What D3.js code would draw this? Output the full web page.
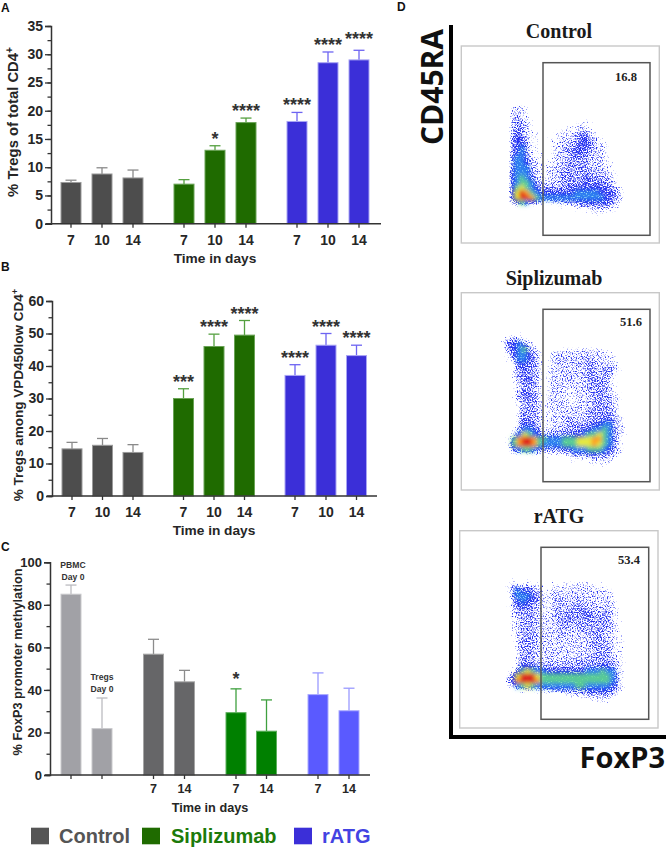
<!DOCTYPE html>
<html><head><meta charset="utf-8">
<script src="https://cdn.jsdelivr.net/npm/d3@7/dist/d3.min.js"></script>
<style>html,body{margin:0;background:#fff}svg{display:block}text{font-family:"Liberation Sans",Arial,sans-serif}</style>
</head><body><svg id="c" width="667" height="848"></svg>
<script>
// ---------- data ----------
const groupNames = ["Control","Siplizumab","rATG"];
const abDays = ["7","10","14","7","10","14","7","10","14"];
const abGroups = [0,0,0,1,1,1,2,2,2];
const aValues = [7.3,8.8,8.1,7.0,13.0,17.9,18.1,28.5,29.0];
const aErrTop = [7.7,9.9,9.5,7.8,13.8,18.7,19.7,30.4,30.7];
const aStars  = ["","","","","*","****","****","****","****"];
const bValues = [14.5,15.6,13.4,30.0,46.0,49.5,37.1,46.4,43.2];
const bErrTop = [16.5,17.7,15.8,33.0,49.8,54.0,40.4,50.0,46.4];
const bStars  = ["","","","***","****","****","****","****","****"];
const cDays   = ["","","7","14","7","14","7","14"];
const cGroups = [3,3,0,0,1,1,2,2];
const cValues = [85.0,21.8,56.8,43.8,29.3,20.6,37.8,30.2];
const cErrTop = [89.3,36.2,63.8,49.2,40.5,35.3,48.0,40.8];
const cStars  = ["","","","","*","","",""];
const flowTitles = ["Control","Siplizumab","rATG"];
const flowGatePercent = ["16.8","51.6","53.4"];
// density: 0 empty … 9 peak
const flowControl = [
"000000000000000000000000","001000000000000000000000","012210000000000000000000","022210000000000000000000",
"023210000000000010000000","023321000000001110000000","023321000000111211000000","024321100011122332100000",
"034421100112223442210000","034431100112223443211000","034531100122334443221000","034531110122334432221000",
"035542110122233332221000","035542211122333332221100","035552211222333332222100","045553211223333333322110",
"045654221223333343333210","045665322223333343433210","046765433333344444444321","047986544444445555544431",
"047998655555555555554432","024654321222333444444321","000000000001011222322210","000000000000000001111100"];
const flowSiplizumab = [
"010110000000000000000000000","023321100000000000000000000","024453210000000000000000000","013456321001111112211100000",
"012455432012222222222211000","001355432012322223322221000","000244332012222232332222100","000234332022222222332332100",
"000233332022222223332331100","000134432022223222333321000","000123332012222222333321000","000123322022221222333321000",
"000134432122221222233321100","000123332022221122233332100","000023332122221222233332100","000023332112222222333332100",
"000023332112222222333332100","000024332112223222333443210","000034432112223333344553210","000135543122233334455653210",
"000257654233333445667653210","002689986655566677788653200","002689986555566677787653200","001456654333344555666543210",
"000111111111112333443332100","000000000000001111122221000","000000000000000000111110000"];
const flowRatg = [
"0100100001011011100000000","1332322101111222221100000","1354433212222222222211000","0355543212322222222221000",
"0345443212322232222222000","0244432212332333222222100","0233332212323334332332100","0223332222334333433332100",
"0123332222333333333332100","0123332222233233333332100","0123332222232223333322100","0123332222232222233322110",
"0023332222222222233322110","0023332222222222233332110","0023332222222222223332110","0023332222222222233332110",
"0023332222223233333333210","0024443333333333333443210","0146765544444444555655210","2479997666666666666665310",
"2489998666666666666665310","1356765555555566555554310","0011111223333333444443210","0000000000001122222322100",
"0000000000000000011110000"];

// ---------- styles ----------
const fills   = ["#4d4d4d","#1f6b00","#3b2fd8"];
const strokes = ["#9a9a9a","#6aa356","#a9a5f4"];
const errs    = ["#8a8a8a","#55a040","#6d64f2"];
const cFills  = ["#666668","#008000","#5a5aff","#a1a1a6"];
const cStrokes= ["#a5a5a5","#5cb05c","#a9a9ff","#c9c9cc"];
const cErrs   = ["#8c8c8c","#3fa03f","#9a9aff","#bcbcc0"];
const legendColors = ["#555555","#1f6b00","#3b2fd8"];
const legendText   = ["#555555","#1c7a0a","#4343e2"];
const ink = "#262626";

const svg = d3.select("#c");
const defs = svg.append("defs");

// ---------- bar panels ----------
function barPanel(o){
  const g = svg.append("g");
  const cx = i => o.centers[i];
  const y = d3.scaleLinear().domain([0,o.max]).range([o.y0,o.y1]);
  const bars = g.selectAll("g.bar").data(o.values).join("g");
  bars.append("line").attr("x1",(d,i)=>cx(i)).attr("x2",(d,i)=>cx(i))
    .attr("y1",d=>y(d)).attr("y2",(d,i)=>y(o.err[i]))
    .attr("stroke",(d,i)=>o.errCol(i)).attr("stroke-width",1.3);
  bars.append("line").attr("x1",(d,i)=>cx(i)-o.cap).attr("x2",(d,i)=>cx(i)+o.cap)
    .attr("y1",(d,i)=>y(o.err[i])).attr("y2",(d,i)=>y(o.err[i]))
    .attr("stroke",(d,i)=>o.errCol(i)).attr("stroke-width",1.3);
  bars.append("rect").attr("x",(d,i)=>cx(i)-o.bw/2).attr("width",o.bw)
    .attr("y",d=>y(d)).attr("height",d=>o.y0-y(d))
    .attr("fill",(d,i)=>o.fill(i)).attr("stroke",(d,i)=>o.stroke(i)).attr("stroke-width",1);
  g.selectAll("text.star").data(o.stars).join("text").attr("class","star")
    .attr("x",(d,i)=>cx(i)).attr("y",(d,i)=>y(o.err[i])-1+(o.starDy?o.starDy[i]:0))
    .attr("text-anchor","middle").attr("font-size",18).attr("font-weight",700).attr("fill","#333")
    .text(d=>d);
  const ya = d3.axisLeft(y).tickValues(d3.range(0,o.max+.01,o.major)).tickSize(6).tickPadding(2);
  const yg = g.append("g").attr("transform",`translate(${o.axisX},0)`).call(ya);
  const ym = d3.axisLeft(y).tickValues(d3.range(0,o.max+.01,o.major/2)).tickSize(3.5).tickFormat("");
  const ymg = g.append("g").attr("transform",`translate(${o.axisX},0)`).call(ym);
  ymg.select(".domain").remove();
  [yg,ymg].forEach(s=>{s.selectAll("line").attr("stroke","#333").attr("stroke-width",1.3);
    s.select(".domain").attr("stroke","#333").attr("stroke-width",1.5)});
  yg.selectAll("text").attr("font-size",o.tick).attr("font-weight",700).attr("fill",ink)
    .attr("font-family",'"Liberation Sans"');
  const xa = g.append("g").attr("transform",`translate(0,${o.y0})`);
  xa.append("line").attr("x1",o.axisX-5).attr("x2",o.xEnd).attr("stroke","#333").attr("stroke-width",1.5);
  xa.selectAll("line.t").data(o.centers).join("line").attr("class","t").attr("x1",d=>d).attr("x2",d=>d)
    .attr("y1",0).attr("y2",4).attr("stroke","#333").attr("stroke-width",1.3);
  xa.selectAll("text").data(o.days).join("text").attr("x",(d,i)=>cx(i)).attr("y",o.tickBase)
    .attr("text-anchor","middle").attr("font-size",o.xTick).attr("font-weight",700).attr("fill",ink).text(d=>d);
  g.append("text").attr("x",o.xTitleX).attr("y",o.xTitleY).attr("text-anchor","middle")
    .attr("font-size",o.titleSize).attr("font-weight",700).attr("fill",ink).text("Time in days");
  const ts = o.yTitleSize||o.titleSize;
  const t = g.append("text").attr("transform",`translate(${o.yTitleX},${o.yTitleY}) rotate(-90)`)
    .attr("text-anchor","middle").attr("font-size",ts).attr("font-weight",700).attr("fill",ink);
  t.append("tspan").text(o.yTitle);
  if(o.sup) t.append("tspan").attr("dy",-5).attr("font-size",ts*.68).text(o.sup);
  g.append("text").attr("x",o.letterX).attr("y",o.letterY).attr("font-size",12).attr("font-weight",700).attr("fill","#111").text(o.letter);
}
const gf = a=>i=>a[abGroups[i]];
const cf = a=>i=>a[cGroups[i]];
barPanel({letter:"A",letterX:1,letterY:12,values:aValues,err:aErrTop,stars:aStars,days:abDays,
  centers:[71,102,133,184,215,246,297,328,359],bw:20,cap:5.5,y0:223.7,y1:26,max:35,major:5,axisX:51,xEnd:381,
  fill:gf(fills),stroke:gf(strokes),errCol:gf(errs),tick:14,xTick:14,tickBase:21,titleSize:13.7,yTitleSize:14.8,
  xTitleX:215,xTitleY:263,yTitle:"% Tregs of total CD4",sup:"+",yTitleX:18,yTitleY:122,
  starDy:[0,0,0,0,0,0,0,0,-4]});
barPanel({letter:"B",letterX:1,letterY:271,values:bValues,err:bErrTop,stars:bStars,days:abDays,
  centers:[72,102.5,133,183.5,214,244.5,295,326,356.5],bw:20,cap:5.5,y0:496,y1:301,max:60,major:10,axisX:52,xEnd:377,
  fill:gf(fills),stroke:gf(strokes),errCol:gf(errs),tick:14,xTick:14,tickBase:21,titleSize:13.7,yTitleSize:13.5,
  xTitleX:214,xTitleY:535,yTitle:"% Tregs among VPD450low CD4",sup:"+",yTitleX:23,yTitleY:395});
barPanel({letter:"C",letterX:1,letterY:551,values:cValues,err:cErrTop,stars:cStars,days:cDays,
  centers:[71,102,153.5,184.5,236,266.5,318,349],bw:20,cap:5.5,y0:775,y1:562.3,max:100,major:20,axisX:50,xEnd:370,
  fill:cf(cFills),stroke:cf(cStrokes),errCol:cf(cErrs),tick:13,xTick:12.5,tickBase:18,titleSize:12.7,
  xTitleX:210,xTitleY:812,yTitle:"% FoxP3 promoter methylation",yTitleX:22,yTitleY:662,starDy:[0,0,0,0,-3,0,0,0]});
[["PBMC",73,568],["Day 0",73,580],["Tregs",102,680],["Day 0",102,692]].forEach(d=>
  svg.append("text").attr("x",d[1]).attr("y",d[2]).attr("text-anchor","middle").attr("font-size",8.6)
    .attr("font-weight",700).attr("fill","#333").text(d[0]));

// ---------- legend ----------
const legendLayout = [{sx:31,tx:59},{sx:142,tx:171},{sx:294,tx:322}];
const lg = svg.append("g");
lg.selectAll("rect").data(groupNames).join("rect")
  .attr("x",(d,i)=>legendLayout[i].sx).attr("y",827.7).attr("width",18).attr("height",16.6)
  .attr("fill",(d,i)=>legendColors[i]);
lg.selectAll("text").data(groupNames).join("text")
  .attr("x",(d,i)=>legendLayout[i].tx).attr("y",843).attr("font-size",20).attr("font-weight",700)
  .attr("fill",(d,i)=>legendText[i]).text(d=>d);

// ---------- flow plots ----------
const dens = d3.scaleLinear().domain([0,1,2,3,4,5,6,7,8,9])
  .range(["#ffffff","#c9d1ff","#97a3ff","#4f62f6","#2a50f0","#35b8ee","#62e488","#e6e83f","#ff9a22","#e0281a"]);
// the grid is smoothed, then broken into grains so thin regions read as single events
const speckle = defs.append("filter").attr("id","speckle")
  .attr("x",0).attr("y",0).attr("width",1).attr("height",1);
speckle.append("feGaussianBlur").attr("in","SourceGraphic").attr("stdDeviation",2.2).attr("result","b");
speckle.append("feTurbulence").attr("type","fractalNoise").attr("baseFrequency",0.8).attr("numOctaves",1).attr("seed",7).attr("result","n");
speckle.append("feColorMatrix").attr("in","n").attr("type","matrix")
  .attr("values","0 0 0 0 0  0 0 0 0 0  0 0 0 0 0  1.7 0 0 0 -0.35").attr("result","na");
speckle.append("feComposite").attr("in","b").attr("in2","na").attr("operator","arithmetic")
  .attr("k1",0).attr("k2",3).attr("k3",3).attr("k4",-3).attr("result","mask");
speckle.append("feFlood").attr("flood-color","#2733f2").attr("result","ink");
speckle.append("feComposite").attr("in","ink").attr("in2","mask").attr("operator","in").attr("result","dots");
speckle.append("feGaussianBlur").attr("in","dots").attr("stdDeviation",0.35);
const soft = defs.append("filter").attr("id","soft").attr("x",-.1).attr("y",-.1).attr("width",1.2).attr("height",1.2);
soft.append("feGaussianBlur").attr("stdDeviation",1.9);

const thinOpacity = [0,.32,.47,.6,.78,.9];
function flow(o){
  const g = svg.append("g");
  const rows = o.grid, nR = rows.length, nC = rows[0].length, step = 5;
  const fx = d3.scaleBand().domain(d3.range(nC)).range([o.x0,o.x0+nC*step]);
  const fy = d3.scaleBand().domain(d3.range(nR)).range([o.y0,o.y0+nR*step]);
  const cells = rows.flatMap((r,j)=>r.split("").map((c,i)=>({i,j,v:+c}))).filter(d=>d.v>0);
  g.append("rect").attr("x",o.box[0]).attr("y",o.box[1]).attr("width",o.box[2]).attr("height",o.box[3])
    .attr("fill","#fff").attr("stroke","#c8c8c8").attr("stroke-width",1.4);
  g.append("g").attr("filter","url(#speckle)").selectAll("rect").data(cells).join("rect")
    .attr("x",d=>fx(d.i)).attr("y",d=>fy(d.j)).attr("width",step+.3).attr("height",step+.3)
    .attr("fill","#1f2ff0").attr("fill-opacity",d=>d.v<6?thinOpacity[d.v]:1);
  g.append("g").attr("filter","url(#soft)").selectAll("rect").data(cells.filter(d=>d.v>=5)).join("rect")
    .attr("x",d=>fx(d.i)).attr("y",d=>fy(d.j)).attr("width",step+.3).attr("height",step+.3)
    .attr("fill",d=>dens(d.v)).attr("fill-opacity",d=>d.v==5?.55:d.v==6?.85:1);
  g.append("rect").attr("x",o.gate[0]).attr("y",o.gate[1]).attr("width",o.gate[2]).attr("height",o.gate[3])
    .attr("fill","none").attr("stroke","#555").attr("stroke-width",1.5);
  g.append("text").attr("x",o.title[0]).attr("y",o.title[1]).attr("text-anchor","middle")
    .style("font-family",'"Liberation Serif"').attr("font-size",20).attr("font-weight",700).attr("fill","#1a1a1a").text(o.name);
  g.append("text").attr("x",o.pct[0]).attr("y",o.pct[1]).attr("text-anchor","middle")
    .style("font-family",'"Liberation Serif"').attr("font-size",12.5).attr("font-weight",700).attr("fill","#222").text(o.val);
}
flow({name:flowTitles[0],val:flowGatePercent[0],grid:flowControl,x0:504,y0:95,box:[461.3,46,198,197],gate:[543,62.7,107,172.6],title:[559,38],pct:[626,81]});
flow({name:flowTitles[1],val:flowGatePercent[1],grid:flowSiplizumab,x0:496.7,y0:331.7,box:[461.3,292.7,198,197.3],gate:[543,309.3,107,172.4],title:[554,285],pct:[631,326]});
flow({name:flowTitles[2],val:flowGatePercent[2],grid:flowRatg,x0:505,y0:578.3,box:[459.7,530.7,198.3,197.3],gate:[541,547.3,107.7,172],title:[559,523],pct:[629,564]});

// ---------- D axes ----------
svg.append("line").attr("x1",451).attr("x2",451).attr("y1",25).attr("y2",739).attr("stroke","#000").attr("stroke-width",4);
svg.append("line").attr("x1",449).attr("x2",666).attr("y1",737).attr("y2",737).attr("stroke","#000").attr("stroke-width",4);
svg.append("text").attr("transform","translate(443,87) rotate(-90)").attr("text-anchor","middle")
  .style("font-family",'"Open Sans"').attr("font-size",30).attr("font-weight",700).attr("fill","#111").text("CD45RA");
svg.append("text").attr("x",665).attr("y",768).attr("text-anchor","end")
  .style("font-family",'"Open Sans"').attr("font-size",29).attr("font-weight",700).attr("fill","#111").text("FoxP3");
svg.append("text").attr("x",397).attr("y",11).attr("font-size",12).attr("font-weight",700).attr("fill","#111").text("D");
</script></body></html>
